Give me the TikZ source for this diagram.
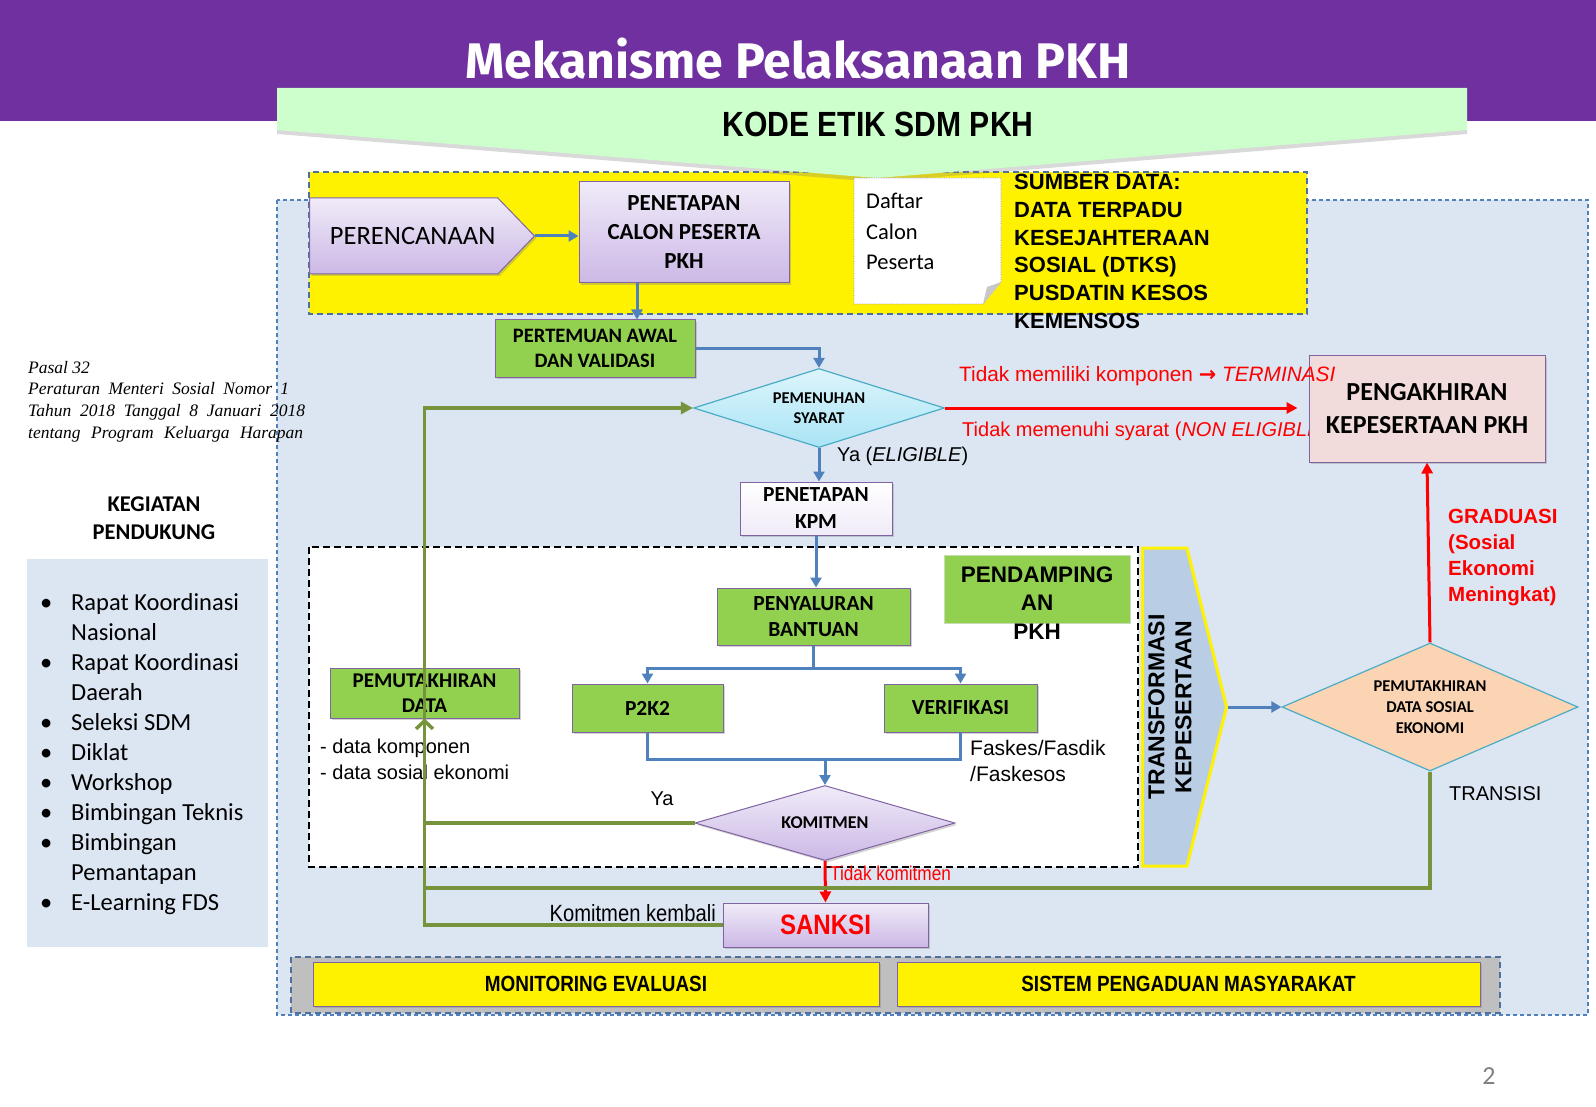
\documentclass[tikz,border=0pt]{standalone}
\usepackage{fontspec}
\setmainfont{Carlito}
\newfontfamily\arial{Liberation Sans}
\newfontfamily\narrow[FakeStretch=0.86]{Liberation Sans}
\newfontfamily\titlefont{Fira Sans}
\newfontfamily\cambria{Liberation Serif}
\newfontfamily\dejavu{DejaVu Sans}
\usetikzlibrary{shapes.geometric,shapes.symbols,shadows,arrows.meta}
\newcommand{\setfs}[2]{\fontsize{#1}{#2}\selectfont}
\definecolor{bannerpurple}{HTML}{7030A0}
\definecolor{kodegreen}{HTML}{CCFFCC}
\definecolor{panelblue}{HTML}{DCE6F2}
\definecolor{dashblue}{HTML}{4F6F9F}
\definecolor{arrowblue}{HTML}{4F81BD}
\definecolor{boxpurple}{HTML}{8064A2}
\definecolor{lavtop}{HTML}{F0EBF8}
\definecolor{lavbot}{HTML}{CCB8E6}
\definecolor{boxgreen}{HTML}{92D050}
\definecolor{linegreen}{HTML}{77933C}
\definecolor{cyanline}{HTML}{4BACC6}
\definecolor{cyantop}{HTML}{DDF5FC}
\definecolor{cyanbot}{HTML}{A9E4F5}
\definecolor{peach}{HTML}{FBD4B4}
\definecolor{pinkbox}{HTML}{F2DCDB}
\definecolor{transblue}{HTML}{B9CDE5}
\definecolor{greybar}{HTML}{BFBFBF}
\definecolor{notepurple}{HTML}{9C8FC4}
\definecolor{foldgray}{HTML}{C8C8C8}
\begin{document}
\begin{tikzpicture}[x=1pt, y=-1pt]
    \tikzstyle{shade} = [drop shadow={shadow xshift=2pt, shadow yshift=-2pt, opacity=0.35}]
    \tikzstyle{lavbox} = [rectangle, draw=boxpurple, line width=1pt, top color=lavtop, bottom color=lavbot, align=center, inner sep=0pt, font=\bfseries\setfs{23}{29}, shade]
    \tikzstyle{greenbox} = [rectangle, draw=boxpurple, line width=1pt, fill=boxgreen, align=center, inner sep=0pt, font=\bfseries\setfs{21.5}{26}, shade]
    \tikzstyle{yellowbox} = [rectangle, draw=boxpurple, line width=1pt, fill=yellow, inner sep=0pt, font=\narrow\bfseries\setfs{22}{24}, shade]
    \tikzstyle{arrow} = [line width=3pt, draw=arrowblue, ->, >={Triangle[length=10pt,width=11pt]}]
    \tikzstyle{blueline} = [line width=3pt, draw=arrowblue]
    \tikzstyle{redarrow} = [line width=3pt, draw=red, ->, >={Triangle[length=11pt,width=11pt]}]
    \tikzstyle{greenline} = [line width=3.5pt, draw=linegreen]
    \tikzstyle{greenarrow} = [greenline, ->, >={Triangle[length=12pt,width=12pt]}]
    \tikzstyle{barb} = [greenline, ->, >={Straight Barb[length=8pt,width=17pt]}]
    \tikzstyle{label} = [inner sep=0pt, font=\arial\setfs{20}{26}]

    \useasboundingbox (0,0) rectangle (1596,1107);

    % Header
    \fill[bannerpurple] (0,0) rectangle (1596,121);
    \node [font=\titlefont\bfseries\setfs{50}{56}, text=white] (title) at (798,59) {Mekanisme Pelaksanaan PKH};

    % Panels
    \filldraw [fill=panelblue, draw=arrowblue, dash pattern=on 4pt off 3pt, line width=1.2pt] (277,200) rectangle (1588,1015);
    \filldraw [fill=yellow, draw=dashblue, dash pattern=on 6pt off 4pt, line width=1.3pt] (309,172) rectangle (1307,314);
    \fill [kodegreen, drop shadow={shadow xshift=0pt, shadow yshift=-4pt, opacity=0.3}] (277,88) -- (1467,88) -- (1467,130) -- (877,178) -- (277,130) -- cycle;
    \node [font=\narrow\bfseries\setfs{35}{38}] (kode) at (878,124) {KODE ETIK SDM PKH};

    % Perencanaan
    \node [signal, signal to=east, signal pointer angle=92, draw=boxpurple, line width=1pt, top color=lavtop, bottom color=lavbot, minimum width=225pt, minimum height=76pt, inner sep=0pt, font=\setfs{26.5}{30}, shade, anchor=west] (plan) at (309,236) {\hspace*{18pt}PERENCANAAN};
    \node [lavbox, minimum width=210pt, minimum height=101pt] (calon) at (684,232.5) {PENETAPAN\\CALON PESERTA\\PKH};

    % Daftar calon peserta
    \filldraw [fill=white, draw=notepurple, densely dotted, line width=0.7pt] (854,178) -- (1001,178) -- (1001,282) -- (983,304) -- (854,304) -- cycle;
    \fill [foldgray] (983,304) -- (987,287) -- (1001,282) -- cycle;
    \node [anchor=north west, align=left, inner sep=0pt, font=\setfs{22.5}{30.5}] (daftar) at (866,193) {Daftar\\Calon\\Peserta};
    \node [anchor=north west, align=left, inner sep=0pt, font=\arial\bfseries\setfs{22}{27.8}] (sumber) at (1014,174) {SUMBER DATA:\\DATA TERPADU\\KESEJAHTERAAN\\SOSIAL (DTKS)\\PUSDATIN KESOS\\KEMENSOS};

    % Pertemuan awal dan pemenuhan syarat
    \node [greenbox, minimum width=200pt, minimum height=57pt, font=\bfseries\setfs{20.5}{25}] (awal) at (595,348.5) {PERTEMUAN AWAL\\DAN VALIDASI};
    \node [diamond, aspect=3.18, draw=cyanline, line width=1.2pt, top color=cyantop, bottom color=cyanbot, minimum width=251pt, minimum height=79pt, inner sep=0pt, align=center, font=\bfseries\setfs{16.5}{20.5}] (syarat) at (819,408) {PEMENUHAN\\SYARAT};

    \draw [arrow] (plan.east) -- (plan.east -| calon.west);
    \draw [arrow] ([xshift=-47pt]calon.south) -- ([xshift=-47pt]calon.south |- awal.north);
    \draw [arrow] (awal.east) -| (syarat.north);

    % Pengakhiran
    \node [label, anchor=west, text=red] (nonelig) at (962,431) {Tidak memenuhi syarat (\textit{NON ELIGIBLE})};
    \node [rectangle, draw=boxpurple, line width=1pt, fill=pinkbox, minimum width=236pt, minimum height=106pt, align=center, inner sep=0pt, font=\bfseries\setfs{26}{33}, shade] (akhir) at (1427,409) {PENGAKHIRAN\\KEPESERTAAN PKH};
    \node [label, anchor=west, text=red, font=\arial\setfs{20.8}{26}] (termin) at (959,376) {Tidak memiliki komponen {\dejavu\bfseries →} \textit{TERMINASI}};
    \draw [redarrow, shorten >=11pt] (syarat.east) -- (syarat.east -| akhir.west);

    % Penetapan KPM
    \node [rectangle, draw=boxpurple, line width=1pt, top color=white, bottom color=lavtop, minimum width=152pt, minimum height=53pt, align=center, inner sep=0pt, font=\bfseries\setfs{21.5}{27}, shade] (kpm) at (816,508.5) {PENETAPAN\\KPM};
    \node [label, anchor=west] (ya1) at (837,456) {Ya (\textit{ELIGIBLE})};
    \draw [arrow] (syarat.south) -- (syarat.south |- kpm.north);

    % Pendampingan area
    \filldraw [fill=white, draw=black, dash pattern=on 7pt off 4pt, line width=1.6pt] (309,547) rectangle (1138,867);
    \node [rectangle, fill=boxgreen, draw=boxgreen!80!black!40, minimum width=186pt, minimum height=68pt] (damping) at (1037,589) {};
    \node [align=center, inner sep=0pt, font=\arial\bfseries\setfs{22.5}{28.5}] (dampingtext) at ([yshift=-14pt]damping.center) {PENDAMPING\\AN\\PKH};

    \node [greenbox, minimum width=193pt, minimum height=57pt] (salur) at (813.5,616.5) {PENYALURAN\\BANTUAN};
    \node [greenbox, minimum width=151pt, minimum height=48pt] (p2k2) at (647.5,708) {P2K2};
    \node [greenbox, minimum width=153pt, minimum height=48pt] (verif) at (960.5,708) {VERIFIKASI};
    \node [diamond, aspect=3.47, draw=boxpurple, line width=1pt, top color=lavtop, bottom color=lavbot, minimum width=260pt, minimum height=75pt, inner sep=0pt, font=\bfseries\setfs{18}{22}, shade] (komit) at (825,823) {KOMITMEN};
    \node [greenbox, minimum width=189pt, minimum height=50pt, font=\bfseries\setfs{21}{25}] (mutakhir) at (424.5,693) {PEMUTAKHIRAN\\DATA};

    \draw [arrow] (kpm.south) -- (kpm.south |- salur.north);
    \draw [blueline] (salur.south) -- ++(0,23) coordinate (split);
    \draw [arrow] (split) -| (p2k2.north);
    \draw [arrow] (split) -| (verif.north);
    \draw [blueline] (p2k2.south) -- ++(0,27) coordinate (merge) -| (verif.south);
    \draw [arrow] (merge -| komit.north) -- (komit.north);

    \node [label, anchor=west, align=left, font=\arial\setfs{21}{26}] (faskes) at (970,761) {Faskes/Fasdik\\/Faskesos};
    \node [label, anchor=west, align=left] (datalist) at (320,759) {- data komponen\\- data sosial ekonomi};
    \node [label] (ya2) at (662,799) {Ya};

    % Sanksi
    \node [lavbox, minimum width=205pt, minimum height=44pt, font=\narrow\bfseries\setfs{28}{30}, text=red] (sanksi) at (825.5,925) {SANKSI};
    \draw [redarrow] (komit.south) -- (sanksi.north);
    \node [label, anchor=west, text=red, font=\narrow\setfs{20}{22}] (tidakkom) at (830,873) {Tidak komitmen};
    \node [label, anchor=east, font=\narrow\setfs{23.5}{26}] (kembali) at (716,913) {Komitmen kembali};

    % Transformasi dan pemutakhiran data sosial ekonomi
    \node [signal, signal to=east, signal pointer angle=152, draw=yellow, line width=3pt, fill=transblue, minimum width=84pt, minimum height=318pt, inner sep=0pt, anchor=west] (transform) at (1141,707) {};
    \node [rotate=90, align=center, inner sep=0pt, font=\arial\bfseries\setfs{23}{27}] (transtext) at (1170,707) {TRANSFORMASI\\KEPESERTAAN};
    \node [diamond, aspect=2.31, draw=cyanline, line width=1.2pt, fill=peach, minimum width=296pt, minimum height=128pt, inner sep=0pt, align=center, font=\bfseries\setfs{16.5}{21}] (sekon) at (1430,707) {PEMUTAKHIRAN\\DATA SOSIAL\\EKONOMI};
    \draw [arrow] (transform.east) -- (sekon.west);
    \draw [redarrow] (sekon.north) -- (akhir.south);
    \node [label, anchor=west, align=left, text=red, font=\arial\bfseries\setfs{20.5}{26}] (graduasi) at (1448,558) {GRADUASI\\(Sosial\\Ekonomi\\Meningkat)};
    \node [label, anchor=west] (transisi) at (1449,794) {TRANSISI};

    % Green feedback lines
    \draw [barb] (komit.west) -| (mutakhir.south);
    \draw [greenarrow] (sanksi.west) -| (syarat.west -| mutakhir.south) -- (syarat.west);
    \draw [greenline] (sekon.south) |- (mutakhir.south |- 0,888);

    % Monitoring
    \filldraw [fill=greybar, draw=dashblue, dash pattern=on 6pt off 4pt, line width=1.3pt] (291,957) rectangle (1500,1013);
    \node [yellowbox, minimum width=566pt, minimum height=44pt] (monev) at (596,984) {MONITORING EVALUASI};
    \node [yellowbox, minimum width=583pt, minimum height=44pt] (aduan) at (1188.5,984) {SISTEM PENGADUAN MASYARAKAT};

    % Kegiatan pendukung
    \node [anchor=west, align=left, inner sep=0pt, font=\cambria\itshape\setfs{17.5}{21.7}] (pasal) at (28,401.5) {Pasal 32\\\makebox[261pt][s]{Peraturan Menteri Sosial Nomor 1}\\\makebox[277pt][s]{Tahun 2018 Tanggal 8 Januari 2018}\\\makebox[275pt][s]{tentang Program Keluarga Harapan}};
    \node [align=center, inner sep=0pt, font=\bfseries\setfs{22.5}{27.5}] (pendukung) at (154,518) {KEGIATAN\\PENDUKUNG};
    \fill [panelblue] (27,559) rectangle (268,947);
    \node [anchor=west, align=left, inner sep=0pt, font=\setfs{24.5}{30}] (kegiatan) at (40,754) {%
        \makebox[31pt][l]{•}Rapat Koordinasi\\\hspace*{31pt}Nasional\\
        \makebox[31pt][l]{•}Rapat Koordinasi\\\hspace*{31pt}Daerah\\
        \makebox[31pt][l]{•}Seleksi SDM\\
        \makebox[31pt][l]{•}Diklat\\
        \makebox[31pt][l]{•}Workshop\\
        \makebox[31pt][l]{•}Bimbingan Teknis\\
        \makebox[31pt][l]{•}Bimbingan\\\hspace*{31pt}Pemantapan\\
        \makebox[31pt][l]{•}E-Learning FDS};

    % Page number
    \node [font=\setfs{26}{28}, text=gray] (page) at (1489,1076) {2};
\end{tikzpicture}
\end{document}
